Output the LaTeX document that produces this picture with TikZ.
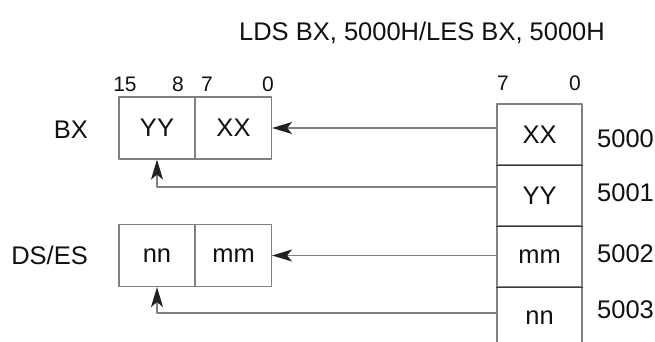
\documentclass[tikz,border=0pt]{standalone}
\usepackage{fontspec}
\setmainfont{Liberation Sans}
\usetikzlibrary{arrows.meta,calc,positioning}
\definecolor{regLine}{HTML}{808080}
\definecolor{regInk}{HTML}{111111}
\definecolor{regTip}{HTML}{222222}
\definecolor{regRule}{HTML}{3A3A3A}

\begin{document}
\begin{tikzpicture}[x=1pt,y=-1pt,>=Stealth,line cap=round,line join=round]
\useasboundingbox[fill=white] (0,0) rectangle (655,342);
\tikzset{cell/.style={draw=regLine,line width=1.2pt,minimum width=76pt,minimum height=62pt,inner sep=0pt,text=regInk,font=\fontsize{25.5}{30}\selectfont},memcell/.style={cell,minimum width=85pt,minimum height=61pt},conn/.style={draw=regLine,line width=1.2pt},tip/.style={-{Stealth[length=20pt,width=12pt,inset=5pt,color=regTip]}},lbl/.style={text=regInk,font=\fontsize{25.5}{30}\selectfont,inner sep=0pt},bitno/.style={text=regInk,font=\fontsize{21}{25}\selectfont,inner sep=0pt}}
\node[lbl] (title) at (422,33) {LDS BX, 5000H/LES BX, 5000H};
% registers
\node[cell] (bxHi) at (157,128) {YY}; \node[cell] (bxLo) at (233.5,128) {XX};
\node[cell] (segHi) at (157,255.5) {nn}; \node[cell] (segLo) at (233.5,255.5) {mm};
\node[lbl,anchor=east] (bxName) at (88,130) {BX}; \node[lbl,anchor=east] (segName) at (88,255) {DS/ES};
\node[bitno] (b15) at (125,84) {15}; \node[bitno] (b8) at (178,84) {8}; \node[bitno] (b7) at (207,84) {7}; \node[bitno] (b0) at (268,84) {0};
% memory
\node[memcell] (m0) at (539.5,134.5) {XX}; \node[memcell] (m1) at (539.5,195.5) {YY};
\node[memcell] (m2) at (539.5,256.5) {mm}; \node[memcell] (m3) at (539.5,317.5) {nn};
\foreach \a/\b in {m0/m1,m1/m2,m2/m3} \draw[regRule,line width=1.2pt] (\a.south west) -- (\a.south east);
\node[bitno] (mb7) at (503,83) {7}; \node[bitno] (mb0) at (575,83) {0};
\node[lbl,anchor=west] (a0) at (597,139) {5000}; \node[lbl,anchor=west] (a1) at (597,193) {5001};
\node[lbl,anchor=west] (a2) at (597,254) {5002}; \node[lbl,anchor=west] (a3) at (597,310) {5003};
% transfers
\draw[conn,tip] (bxLo.east -| m0.west) -- (bxLo.east);
\draw[conn,tip] ([yshift=8.5pt]m1.west) -| (bxHi.south);
\draw[conn,tip] (segLo.east -| m2.west) -- (segLo.east);
\draw[conn,tip] ([yshift=4.5pt]m3.west) -| (segHi.south);
\end{tikzpicture}
\end{document}
